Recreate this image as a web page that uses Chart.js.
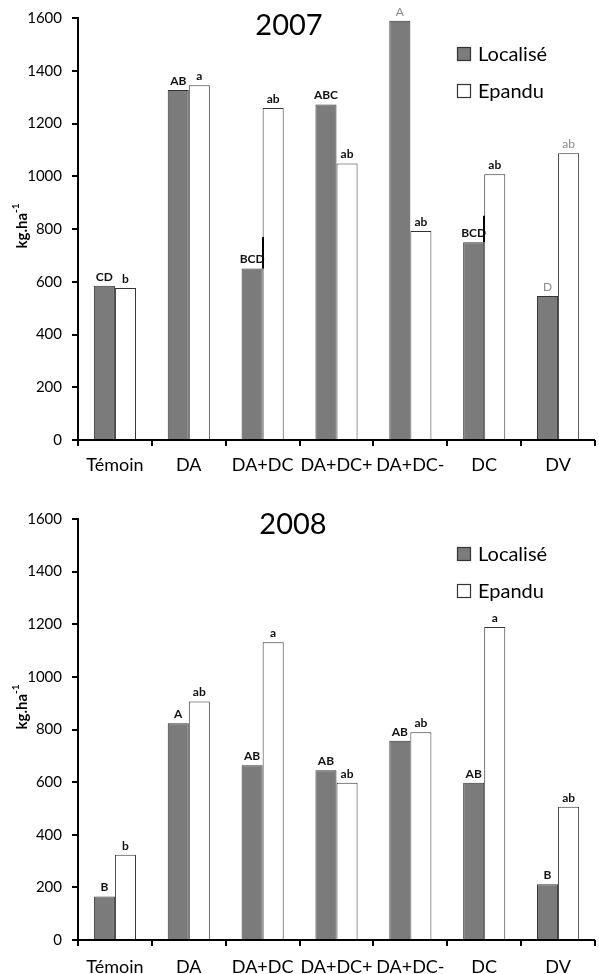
<!DOCTYPE html>
<html>
<head>
<meta charset="utf-8">
<script src="https://cdn.jsdelivr.net/npm/chart.js@4.4.0/dist/chart.umd.min.js"></script>
<style>
  body { margin: 0; background: #fff; }
  canvas { display: block; }
</style>
</head>
<body>
<canvas id="c2007" width="599" height="490"></canvas>
<canvas id="c2008" width="599" height="484"></canvas>
<script>
// treatments on the x axis
const categories = ['Témoin', 'DA', 'DA+DC', 'DA+DC+', 'DA+DC-', 'DC', 'DV'];
const seriesNames = ['Localisé', 'Epandu'];

// 2007 yields, kg/ha
const loc2007 = [585, 1327, 650, 1272, 1590, 750, 546];
const epa2007 = [576, 1345, 1259, 1048, 792, 1008, 1087];
const locLetters2007 = ['CD', 'AB', 'BCD', 'ABC', 'A', 'BCD', 'D'];
const epaLetters2007 = ['b', 'a', 'ab', 'ab', 'ab', 'ab', 'ab'];
const locErr2007 = [null, null, 770, null, null, 850, null];

// 2008 yields, kg/ha
const loc2008 = [165, 824, 664, 645, 757, 598, 212];
const epa2008 = [324, 906, 1132, 598, 790, 1190, 506];
const locLetters2008 = ['B', 'A', 'AB', 'AB', 'AB', 'AB', 'B'];
const epaLetters2008 = ['b', 'ab', 'a', 'ab', 'ab', 'a', 'ab'];

const FONT = 'Lato, "Open Sans", sans-serif';

// axes lines, title, legend, y title, letters and the stray error lines
const extras = {
  id: 'extras',
  afterDatasetsDraw(chart, args, o) {
    const ctx = chart.ctx;
    const y = chart.scales.y;
    const area = chart.chartArea;
    ctx.save();

    // axis lines on top of the bars
    const x0px = Math.round(area.left);
    const y0px = Math.round(y.getPixelForValue(0));
    ctx.fillStyle = '#000';
    ctx.fillRect(x0px - 1, Math.round(area.top) - 1, 2, y0px - Math.round(area.top) + 2);
    ctx.fillRect(x0px - 1, y0px - 1, Math.round(area.right) - x0px + 1, 2);
    // y ticks, pointing outward
    y.ticks.forEach(t => {
      const py = Math.round(y.getPixelForValue(t.value));
      ctx.fillRect(x0px - 6, py - 1, 6, 2);
    });

    // letters over bars
    chart.data.datasets.forEach((ds, di) => {
      const meta = chart.getDatasetMeta(di);
      meta.data.forEach((bar, i) => {
        const grey = (o.grey[di] || []).includes(i);
        ctx.fillStyle = grey ? '#8a8a8a' : '#111';
        ctx.font = (grey ? '' : 'bold ') + '12px ' + FONT;
        ctx.textAlign = 'center';
        ctx.textBaseline = 'bottom';
        ctx.fillText(o.letters[di][i], bar.x, bar.y - 3);
      });
    });

    // error lines on Localisé
    if (o.err) {
      const meta = chart.getDatasetMeta(0);
      ctx.fillStyle = '#000';
      o.err.forEach((v, i) => {
        if (v == null) return;
        const bar = meta.data[i];
        const ex = Math.round(bar.x + bar.width / 2);
        const top = y.getPixelForValue(v);
        ctx.fillRect(ex - 1, top, 2, bar.y - top);
      });
    }

    // title
    ctx.fillStyle = '#000';
    ctx.font = '29px ' + FONT;
    ctx.textAlign = 'center';
    ctx.textBaseline = 'middle';
    ctx.fillText(o.title, o.titleX, o.titleY);

    // legend
    chart.data.datasets.forEach((ds, di) => {
      const cy = o.legendY[di];
      ctx.fillStyle = ds.backgroundColor;
      ctx.fillRect(457, cy - 7, 14, 14);
      ctx.strokeStyle = '#333';
      ctx.lineWidth = 1.2;
      ctx.strokeRect(457.5, cy - 6.5, 13, 13);
      ctx.fillStyle = '#000';
      ctx.font = '20px ' + FONT;
      ctx.textAlign = 'left';
      ctx.textBaseline = 'middle';
      ctx.fillText(ds.label, 478, cy + 1);
    });

    // y axis title with superscript
    ctx.fillStyle = '#000';
    ctx.translate(22, o.yTitleY);
    ctx.rotate(-Math.PI / 2);
    ctx.font = 'bold 15px ' + FONT;
    const main = 'kg.ha';
    const wMain = ctx.measureText(main).width;
    ctx.font = 'bold 10px ' + FONT;
    const wSup = ctx.measureText('-1').width;
    const tx = -(wMain + wSup) / 2;
    ctx.textAlign = 'left';
    ctx.textBaseline = 'middle';
    ctx.font = 'bold 15px ' + FONT;
    ctx.fillText(main, tx, 0);
    ctx.font = 'bold 10px ' + FONT;
    ctx.fillText('-1', tx + wMain, -6);
    ctx.restore();
  }
};

function makeChart(id, loc, epa, opts) {
  return new Chart(document.getElementById(id), {
    type: 'bar',
    data: {
      labels: categories,
      datasets: [
        { label: seriesNames[0], data: loc, backgroundColor: '#7b7b7b', borderColor: '#333', borderWidth: 1 },
        { label: seriesNames[1], data: epa, backgroundColor: '#ffffff', borderColor: '#333', borderWidth: 1 }
      ]
    },
    options: {
      responsive: false,
      animation: false,
      devicePixelRatio: 1,
      categoryPercentage: 0.57,
      barPercentage: 1,
      layout: { padding: { top: opts.top, right: 4, left: 0, bottom: 0 } },
      plugins: {
        legend: { display: false },
        tooltip: { enabled: false },
        extras: opts.extras
      },
      scales: {
        y: {
          min: 0, max: 1600,
          ticks: { stepSize: 200, color: '#000', font: { family: FONT, size: 15 }, padding: 8, callback: v => String(v) },
          grid: { display: false },
          border: { display: false },
          afterFit(s) { s.width = 78; }
        },
        x: {
          ticks: { color: '#000', font: { family: FONT, size: 18 }, padding: opts.xPad, maxRotation: 0, autoSkip: false },
          grid: { offset: true, drawOnChartArea: false, color: '#000', tickLength: 6, lineWidth: 2 },
          border: { display: false },
          afterFit(s) { s.height = opts.xHeight; }
        }
      }
    },
    plugins: [extras]
  });
}

makeChart('c2007', loc2007, epa2007, {
  top: 18, xHeight: 50, xPad: 8,
  extras: {
    letters: [locLetters2007, epaLetters2007],
    grey: [[4, 6], [6]],
    err: locErr2007,
    title: '2007', titleX: 289, titleY: 26,
    legendY: [54, 91], yTitleY: 226
  }
});

makeChart('c2008', loc2008, epa2008, {
  top: 29, xHeight: 34, xPad: 10,
  extras: {
    letters: [locLetters2008, epaLetters2008],
    grey: [[], []],
    err: null,
    title: '2008', titleX: 293, titleY: 35,
    legendY: [64, 101], yTitleY: 217
  }
});
</script>
</body>
</html>
